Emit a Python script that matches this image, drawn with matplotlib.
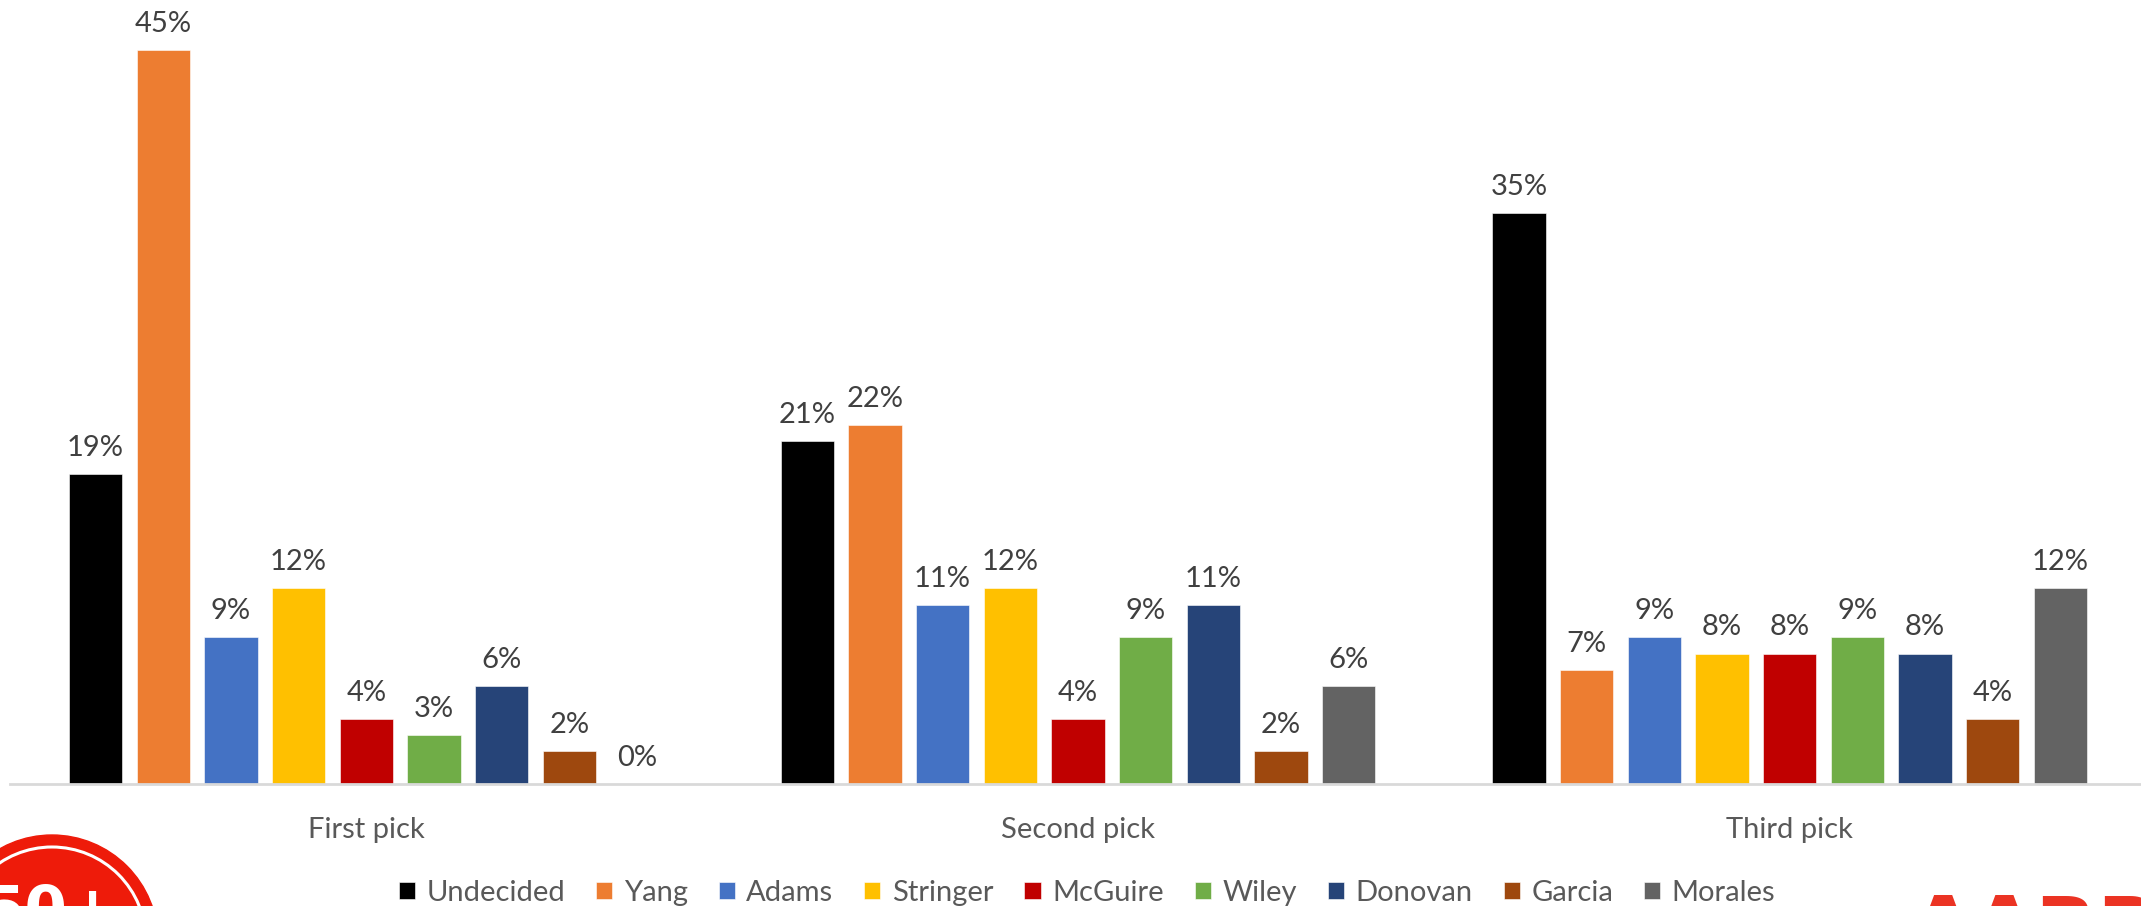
import matplotlib.pyplot as plt
import numpy as np
from matplotlib.patches import Circle

plt.rcParams['font.family'] = ['Lato', 'DejaVu Sans']

picks = ["First pick", "Second pick", "Third pick"]
names = ["Undecided", "Yang", "Adams", "Stringer", "McGuire", "Wiley", "Donovan", "Garcia", "Morales"]
colors = ["#000000", "#ED7D31", "#4472C4", "#FFC000", "#C00000", "#70AD47", "#264478", "#9E480E", "#636363"]

undecided = [19, 21, 35]
yang = [45, 22, 7]
adams = [9, 11, 9]
stringer = [12, 12, 8]
mcguire = [4, 4, 8]
wiley = [3, 9, 9]
donovan = [6, 11, 8]
garcia = [2, 2, 4]
morales = [0, 6, 12]
series = [undecided, yang, adams, stringer, mcguire, wiley, donovan, garcia, morales]

W, H = 2141, 906
fig = plt.figure(figsize=(W / 100, H / 100), dpi=100)
# axes in pixel terms: baseline at y=784, categories 711.7 px apart
ax = fig.add_axes([10.4 / W, (H - 784) / H, 2135.1 / W, 784 / H])

x = np.arange(len(picks))
step = 0.0951   # spacing between bars in a group
bw = 0.0749     # bar width
for i, (nm, vals) in enumerate(zip(names, series)):
    pos = x + (i - 4) * step
    bars = ax.bar(pos, vals, width=bw, color=colors[i], label=nm,
                  edgecolor="white", linewidth=0.4)
    for b, v in zip(bars, vals):
        ax.annotate(f"{v}%", (b.get_x() + b.get_width() / 2, v),
                    xytext=(0, 13), textcoords="offset points",
                    ha="center", va="baseline", fontsize=21, color="#404040")

ax.set_xlim(-0.5, 2.5)
ax.set_ylim(0, 48.07)
ax.set_xticks(x)
ax.set_xticklabels(picks, fontsize=21, color="#595959")
ax.tick_params(axis="x", length=0, pad=23.5)
ax.set_yticks([])
for s in ["top", "right", "left"]:
    ax.spines[s].set_visible(False)
ax.spines["bottom"].set_color("#D9D9D9")
ax.spines["bottom"].set_linewidth(2)

leg = fig.legend(loc="center", bbox_to_anchor=(1087 / W, 13 / H), ncol=9,
                 frameon=False, fontsize=21, handlelength=0.55, handleheight=0.55,
                 handletextpad=0.4, columnspacing=1.06, borderpad=0)
for t in leg.get_texts():
    t.set_color("#595959")

# logos drawn in pixel coordinates
lg = fig.add_axes([0, 0, 1, 1], zorder=5)
lg.set_xlim(0, W)
lg.set_ylim(H, 0)
lg.axis("off")
lg.add_patch(Circle((52, 941), 106, color="#EE1B0A", clip_on=True))
lg.add_patch(Circle((52, 941), 94, fill=False, edgecolor="white", linewidth=2.2))
lg.text(50, 883, "50+", color="white", fontsize=44, fontweight="heavy",
        ha="center", va="top", family="DejaVu Sans")
lg.text(1912, 893, "AARP", color="#EB3323", fontsize=58, fontweight="bold",
        ha="left", va="top", family="DejaVu Sans")

fig.savefig("out.png", dpi=100)
